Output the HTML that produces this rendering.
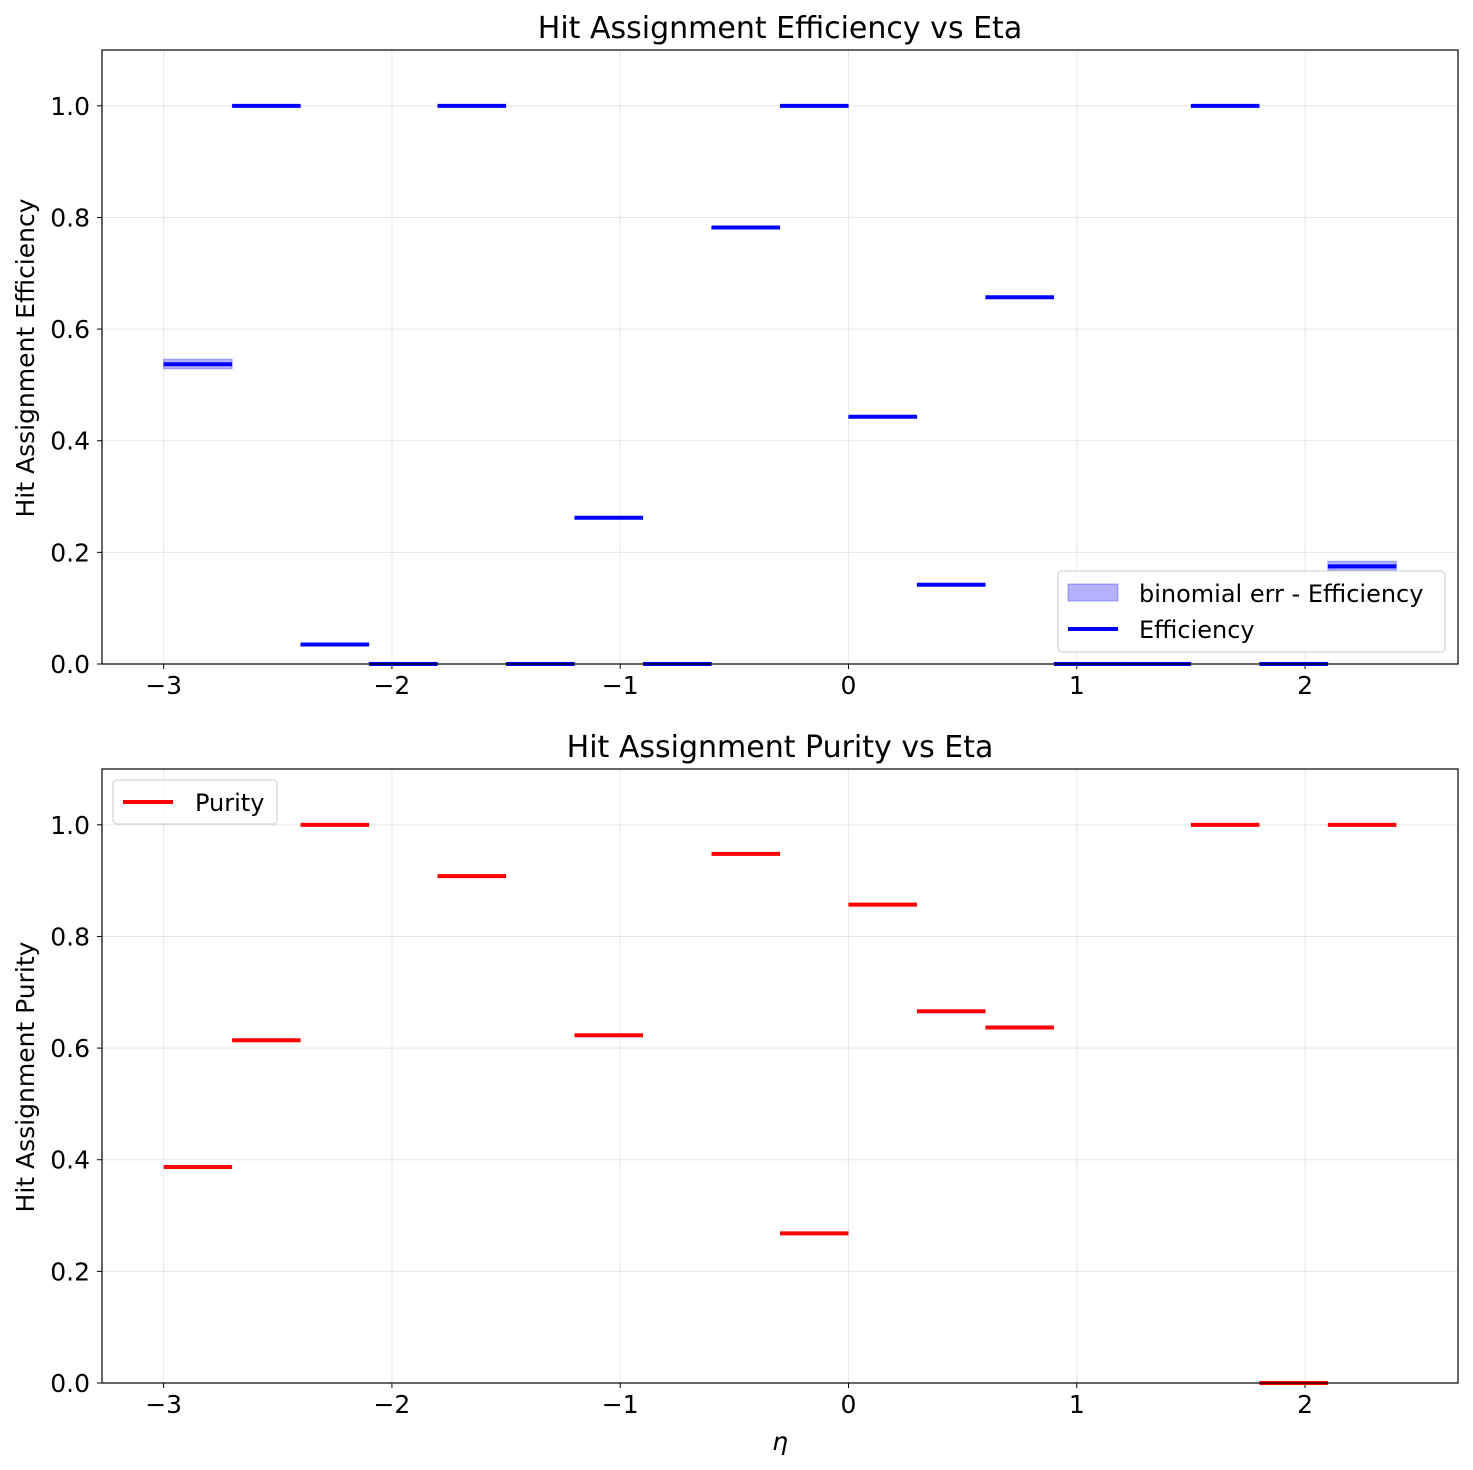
<!DOCTYPE html>
<html><head><meta charset="utf-8"><style>
html,body{margin:0;padding:0;background:#fff;}
svg{display:block;font-family:"DejaVu Sans","Liberation Sans",sans-serif;}
</style></head><body>
<svg id="chart" width="1473" height="1470" viewBox="0 0 1473 1470"></svg>
<script>
const binEdges = [-3.0,-2.7,-2.4,-2.1,-1.8,-1.5,-1.2,-0.9,-0.6,-0.3,0.0,0.3,0.6,0.9,1.2,1.5,1.8,2.1];
const binWidth = 0.3;
const efficiency = [0.537,1.0,0.035,0,1.0,0,0.262,0,0.782,1.0,0.443,0.142,0.657,0,0,1.0,0,0.175];
const effErrLow = [0.529,1.0,0.035,0,1.0,0,0.262,0,0.782,1.0,0.443,0.142,0.657,0,0,1.0,0,0.168];
const effErrHigh = [0.546,1.0,0.035,0.003,1.0,0.003,0.262,0.003,0.782,1.0,0.443,0.142,0.657,0.003,0.003,1.0,0.003,0.184];
const purity = [0.387,0.614,1.0,null,0.908,null,0.623,null,0.948,0.268,0.857,0.666,0.637,null,null,1.0,0,1.0];
const xTicks = [-3,-2,-1,0,1,2];
const yTicks = [0,0.2,0.4,0.6,0.8,1.0];

const svg = document.getElementById('chart');
const NS = 'http://www.w3.org/2000/svg';
function mk(tag, attrs, parent){const e=document.createElementNS(NS,tag);for(const k in attrs)e.setAttribute(k,attrs[k]);(parent||svg).appendChild(e);return e;}
const X0=102,X1=1458,XMIN=-3.27,XMAX=2.67;
const xs = v => X0+(v-XMIN)/(XMAX-XMIN)*(X1-X0);
function panel(top, bottom, name){
  const ys = v => bottom-(v/1.1)*(bottom-top);
  const g = mk('g',{});
  
  
  xTicks.forEach(t=>{
    const l=mk('line',{x1:xs(t),x2:xs(t),y1:top,y2:bottom,stroke:'#b0b0b0','stroke-opacity':0.3,'stroke-width':1},g);
    
    
    mk('line',{x1:xs(t),x2:xs(t),y1:bottom,y2:bottom+5,stroke:'#000','stroke-width':1},g);
    const tx=mk('text',{x:xs(t),y:bottom+30,'text-anchor':'middle','font-size':25},g);
    tx.textContent=(t<0?'\u2212'+(-t):String(t));
    
    
  });
  yTicks.forEach(t=>{
    const l=mk('line',{x1:X0,x2:X1,y1:ys(t),y2:ys(t),stroke:'#b0b0b0','stroke-opacity':0.3,'stroke-width':1},g);
    
    
    mk('line',{x1:X0-5,x2:X0,y1:ys(t),y2:ys(t),stroke:'#000','stroke-width':1},g);
    const tx=mk('text',{x:X0-12,y:ys(t)+9,'text-anchor':'end','font-size':25},g);
    tx.textContent=t.toFixed(1);
    
    
  });
  return {g,ys};
}
const p1 = panel(50,664,'efficiency-panel');
binEdges.forEach((e,i)=>{
  const r=mk('rect',{x:xs(e),width:xs(e+binWidth)-xs(e),y:p1.ys(effErrHigh[i]),height:Math.max(1,p1.ys(effErrLow[i])-p1.ys(effErrHigh[i])),fill:'#0000ff','fill-opacity':0.3,stroke:'#0000ff','stroke-opacity':0.3},p1.g);
  
  
});
binEdges.forEach((e,i)=>{
  const l=mk('line',{x1:xs(e),x2:xs(e+binWidth),y1:p1.ys(efficiency[i]),y2:p1.ys(efficiency[i]),stroke:'#0000ff','stroke-width':4},p1.g);
  
  
});
mk('rect',{x:X0,y:50,width:X1-X0,height:614,fill:'none',stroke:'#000','stroke-width':1.2});
let t=mk('text',{x:780,y:38,'text-anchor':'middle','font-size':30});t.textContent='Hit Assignment Efficiency vs Eta';

t=mk('text',{x:0,y:0,'text-anchor':'middle','font-size':25,transform:'translate(34,358) rotate(-90)'});t.textContent='Hit Assignment Efficiency';

const lg=mk('g',{});

mk('rect',{x:1058,y:571,width:387,height:81,rx:4,fill:'#fff','fill-opacity':0.8,stroke:'#ccc'},lg);
mk('rect',{x:1068,y:584,width:50,height:17,fill:'#0000ff','fill-opacity':0.3,stroke:'#0000ff','stroke-opacity':0.3},lg);
t=mk('text',{x:1139,y:602,'font-size':24},lg);t.textContent='binomial err - Efficiency';

mk('line',{x1:1068,x2:1118,y1:629,y2:629,stroke:'#0000ff','stroke-width':4},lg);
t=mk('text',{x:1139,y:638,'font-size':24},lg);t.textContent='Efficiency';

const p2 = panel(769,1383,'purity-panel');
binEdges.forEach((e,i)=>{
  if(purity[i]===null) return;
  const l=mk('line',{x1:xs(e),x2:xs(e+binWidth),y1:p2.ys(purity[i]),y2:p2.ys(purity[i]),stroke:'#ff0000','stroke-width':4},p2.g);
  
  
});
mk('rect',{x:X0,y:769,width:X1-X0,height:614,fill:'none',stroke:'#000','stroke-width':1.2});
t=mk('text',{x:780,y:757,'text-anchor':'middle','font-size':30});t.textContent='Hit Assignment Purity vs Eta';

t=mk('text',{x:0,y:0,'text-anchor':'middle','font-size':25,transform:'translate(34,1077) rotate(-90)'});t.textContent='Hit Assignment Purity';

t=mk('text',{x:780,y:1450,'text-anchor':'middle','font-size':25,'font-style':'italic'});t.textContent='η';

const lg2=mk('g',{});

mk('rect',{x:113,y:780,width:164,height:44,rx:4,fill:'#fff','fill-opacity':0.8,stroke:'#ccc'},lg2);
mk('line',{x1:123,x2:173,y1:802,y2:802,stroke:'#ff0000','stroke-width':4},lg2);
t=mk('text',{x:195,y:811,'font-size':24},lg2);t.textContent='Purity';

</script>
</body></html>
